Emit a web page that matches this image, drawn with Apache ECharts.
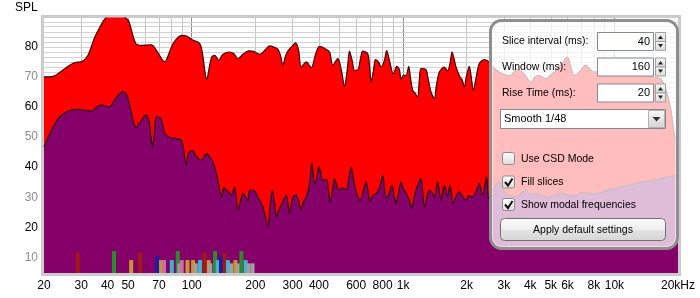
<!DOCTYPE html>
<html><head><meta charset="utf-8">
<style>html,body{margin:0;padding:0;background:#fff}#c{width:700px;height:298px}</style>
<script src="https://cdn.jsdelivr.net/npm/echarts@6/dist/echarts.min.js"></script>
</head><body><div id="c"></div>
<script>
// ---- data (frequency in Hz, level in dB SPL) ----
const redFreq = [20,22.1,25.7,28.0,30.2,32.3,34.8,36.8,38.8,41.9,45.7,48.8,50.4,54.4,57.9,60.6,64.5,68.1,74.6,78.7,82.3,89.7,94.4,101.5,107.1,110.3,113.1,115.9,117.8,120.3,124.3,128.5,134.2,140.1,150.4,158.0,165.5,174.2,186.0,196.3,209.7,221.4,233.7,246.8,255.8,263.5,270.0,278.0,285.1,296.8,310.0,320.2,329.8,348.4,367.9,385.5,402.6,425.0,448.8,465.2,491.2,511.4,528.2,545.8,557.8,576.2,589.0,610.5,628.6,644.6,680.6,693.4,706.3,724.2,740.2,764.6,787.6,816.4,836.9,861.9,900.2,933.2,960.8,978.8,1003.6,1033.6,1063.2,1083,1110.4,1143.4,1172.2,1194.2,1216.6,1284.4,1317,1356.4,1406.2,1437,1484.8,1567.8,1625,1673.2,1704.8,1780.6,1859.4,1906.6,1948.6,1991.2,2058,2102,2150,2220,2294,2422,2558,2700,2852,3010,3240,3430,3674,3824,4026,4218,4406,4738,4966,5186,5578,5994,6240,6448,6808,7320,7670,8010,8836,9778,10750,11726,12790,14062,15218,16552,17476,18452,19126,20000];
const redDb = [70.0,70.2,73.3,74.8,75.1,77.2,83.3,86.6,89.3,90.8,90.8,89.6,88.5,81.1,80.5,80.6,80.7,78.8,75.0,78.5,81.5,83.8,83.6,82.2,81.6,80.5,76.6,71.0,69.1,72.0,76.6,77.2,75.5,77.5,78.3,77.8,76.1,77.5,78.7,78.5,77.5,78.8,80.3,79.8,79.2,77.0,73.9,77.0,78.6,80.0,81.3,79.0,73.3,75.0,73.1,77.5,80.2,79.5,78.3,73.9,76.1,72.0,66.9,73.0,78.6,75.0,72.2,72.3,76.0,78.6,77.7,74.0,68.3,72.0,75.8,75.0,73.3,75.5,78.8,75.5,70.9,73.5,72.5,69.1,70.5,70.5,73.5,70.0,65.6,64.5,63.3,69.0,72.8,72.4,69.0,65.0,62.8,67.0,71.6,73.3,72.0,75.0,78.3,73.3,70.0,69.0,66.5,70.0,73.5,70.0,65.6,70.0,74.4,75.8,75.0,72.8,71.6,70.8,70.5,72.5,71.6,70.0,68.3,70.0,70.5,69.4,70.5,71.6,73.9,76.6,73.0,70.5,71.6,73.9,72.5,71.6,72.2,72.8,71.8,71.6,71.0,70.5,70.0,69.4,66.1,59.6,52.0,46.0];
const purpleFreq = [20,21.3,23.4,25.6,28.5,31.2,33.6,35.2,37.5,39.3,41.0,42.4,44.1,47.1,48.8,50.0,51.9,53.2,54.8,56.2,57.9,60.6,62.9,64.1,65.3,66.5,68.1,71.2,73.0,74.6,78.7,84.7,89.4,91.2,94.4,96.8,101.1,105.3,111.1,117.4,121.7,126.1,130.9,134.2,138.2,141.7,145.9,149.6,154.0,159.7,165.5,170.5,174.8,180.0,184.5,188.0,198.5,209.7,216.6,221.4,229.4,235.0,240.6,246.8,251.4,257.8,265.4,280.2,290.4,301.0,312.4,320.2,329.8,338.2,348.4,361.0,370.2,381.2,389.6,399.4,407.0,417.2,435.8,443.8,452.2,463.6,473.8,496.6,517.0,538.2,551.8,568.2,582.6,600.0,626.6,642.6,668.8,682.0,698.6,716.4,745.8,773.2,801.2,816.4,836.9,861.9,887.4,905.2,927.0,950.6,978.8,1003.6,1033.6,1071.4,1103.2,1125,1152.4,1181.6,1216.6,1240.6,1261,1295.8,1331.6,1368.4,1406.2,1457.4,1512.2,1567.8,1625,1667.8,1729.4,1786.4,1845,1906.6,1969.8,2058,2132,2220,2294,2378,2484,2538,2642,2750,2852,2946,3068,3214,3420,3584,3812,3994,4250,4552,4912,5242,5676,6104,6568,7034,7590,8188,8770,9432,10146,10866,11726,12650,13550,14576,15682,16788,18114,20000];
const purpleDb = [46.7,51.2,56.2,58.4,59.2,59.0,58.6,59.8,60.6,60.3,60.0,61.5,63.3,65.0,64.5,62.8,57.8,54.5,53.2,54.5,55.6,57.3,55.0,50.0,46.7,51.0,56.7,56.2,54.0,51.2,49.9,49.5,49.0,46.5,40.7,44.8,45.5,43.4,42.3,44.5,43.5,41.7,37.9,34.0,30.1,33.0,32.4,31.8,30.7,33.4,25.7,29.0,31.3,30.0,29.0,32.4,32.0,29.0,27.0,24.6,20.2,27.0,32.4,28.0,23.5,25.5,27.4,30.7,24.6,30.1,30.7,29.0,25.9,28.5,30.1,34.6,41.4,34.6,36.0,40.1,38.5,35.7,35.7,32.0,28.5,32.0,36.2,32.4,33.0,32.4,35.5,39.9,36.0,31.8,29.0,31.0,35.1,32.0,28.5,30.5,31.3,33.0,37.3,33.0,29.6,31.5,34.0,31.0,27.9,31.0,35.1,33.0,31.3,29.0,26.3,29.5,32.4,34.5,36.2,31.0,26.8,30.0,32.4,31.5,30.1,35.1,29.0,34.0,30.4,34.0,27.9,30.5,31.8,30.5,29.0,30.5,30.1,32.0,34.6,30.7,36.8,29.6,32.5,34.0,35.1,33.0,31.3,30.5,30.1,31.0,32.4,31.0,31.3,30.5,30.1,31.0,31.3,30.5,30.7,31.5,31.3,31.0,31.8,32.5,32.9,33.5,34.0,34.5,35.1,35.3,35.7,36.3,36.8,37.3];
// modal frequencies: frequency, level, mode kind
const modalFreq = [28.9,42.9,51.7,57.0,68.6,71.6,74.0,80.5,85.9,87.5,89.7,95.5,101.5,104.5,109.5,114.9,120.4,122.5,128.9,132.7,137.6,142.8,148.4,154,161,166,171.8,180,186,194];
const modalDb = [11.7,12.1,9.1,11.7,10.4,9.1,9.1,9.1,12.1,8.0,9.1,9.1,9.1,8.0,9.1,11.7,9.1,8.0,12.1,9.1,10.4,11.4,9.1,8.0,9.1,8.0,12.1,9.1,8.0,8.0];
const modalKind = [0,1,2,0,3,2,5,4,1,6,5,2,2,6,4,0,2,6,1,4,3,0,4,6,2,6,1,4,6,6];
// axes
const xTickFreq = [20,30,40,50,70,100,200,300,400,600,800,1000,2000,3000,4000,5000,6000,8000,10000,20000];
const xTickLabel = ['20','30','40','50','70','100','200','300','400','600','800','1k','2k','3k','4k','5k','6k','8k','10k','20kHz'];
const yTickDb = [10,20,30,40,50,60,70,80];
const gridFreq = [30,40,50,60,70,80,90,100,200,300,400,500,600,700,800,900,1000,2000,3000,4000,5000,6000,7000,8000,9000,10000];
const decadeFreq = [100,1000,10000];
const gridDb = [45,46.7,48.3,50,51.7,53.3,55,56.7,58.3,60,61.7,63.3,65,66.7,68.3,70,71.7,73.3,75,76.7,78.3,80,81.7,83.3,85,86.7,88.3];
// settings panel text
const panelFields = ['Slice interval (ms):','Window (ms):','Rise Time (ms):'];
const panelValues = ['40','160','20'];
const smoothLabel = 'Smooth 1/48';
const checkLabels = ['Use CSD Mode','Fill slices','Show modal frequencies'];
const checkStates = [false,true,true];
const buttonLabel = 'Apply default settings';
const axisTitle = 'SPL';

// ---- chart ----
const FONT = '"Liberation Sans", Arial, sans-serif';
const modalPalette = ['#a01818','#2e8a2e','#c8962e','#1c1ca8','#3fb4cc','#c86fa8','#a0a0a0'];
const chart = echarts.init(document.getElementById('c'), null, {renderer:'canvas'});

function fmtX(v){
  for (let i=0;i<xTickFreq.length;i++){
    if (Math.abs(Math.log10(v)-Math.log10(xTickFreq[i]))<1e-4) return xTickLabel[i];
  }
  return '';
}
const grad = (a,b) => ({type:'linear',x:0,y:0,x2:0,y2:1,colorStops:[{offset:0,color:a},{offset:1,color:b}]});

const G = [];
// plot frame
G.push({type:'rect', z:0, shape:{x:42.5,y:16.5,width:637,height:258}, style:{fill:'none',stroke:'#cbcbcb',lineWidth:3}});
// panel
G.push({type:'rect', z:100, shape:{x:490.5,y:20.5,width:187,height:228,r:11}, style:{fill:'rgba(255,255,255,0.74)',stroke:'#8e8e8e',lineWidth:3}});
G.push({type:'rect', z:100, shape:{x:492.5,y:22.5,width:183,height:224,r:9}, style:{fill:'none',stroke:'rgba(255,255,255,0.5)',lineWidth:1}});
const rowTop = [32,57.5,83.5];
panelFields.forEach((t,i)=>{
  const top = rowTop[i];
  G.push({type:'text', z:101, x:502, y:top+9.5, style:{text:t, fontSize:10.5, fontFamily:FONT, fill:'#000', verticalAlign:'middle'}});
  G.push({type:'rect', z:101, shape:{x:597.5,y:top+0.5,width:56,height:18}, style:{fill:'#fff',stroke:'#828790',lineWidth:1}});
  G.push({type:'text', z:102, x:650, y:top+9.5, style:{text:panelValues[i], fontSize:11, fontFamily:FONT, fill:'#000', align:'right', verticalAlign:'middle'}});
  G.push({type:'rect', z:101, shape:{x:655.5,y:top+0.5,width:10,height:9}, style:{fill:grad('#fafafa','#d6d6d6'),stroke:'#a0a0a0',lineWidth:1}});
  G.push({type:'rect', z:101, shape:{x:655.5,y:top+9.5,width:10,height:9}, style:{fill:grad('#fafafa','#d6d6d6'),stroke:'#a0a0a0',lineWidth:1}});
  G.push({type:'polygon', z:102, shape:{points:[[658,top+7],[663,top+7],[660.5,top+3.5]]}, style:{fill:'#222'}});
  G.push({type:'polygon', z:102, shape:{points:[[658,top+12],[663,top+12],[660.5,top+15.5]]}, style:{fill:'#222'}});
});
// dropdown
G.push({type:'rect', z:101, shape:{x:500.5,y:109.5,width:165,height:19}, style:{fill:'#fff',stroke:'#828790',lineWidth:1}});
G.push({type:'rect', z:101, shape:{x:648.5,y:110.5,width:16,height:17}, style:{fill:grad('#f8f8f8','#d4d4d4'),stroke:'#b4b4b4',lineWidth:1}});
G.push({type:'polygon', z:102, shape:{points:[[652.5,117],[660.5,117],[656.5,121.5]]}, style:{fill:'#333'}});
G.push({type:'text', z:102, x:504, y:119, style:{text:smoothLabel, fontSize:11, fontFamily:FONT, fill:'#000', verticalAlign:'middle'}});
// checkboxes
const chkTop = [152.5,176,198.5];
checkLabels.forEach((t,i)=>{
  const top = chkTop[i];
  G.push({type:'rect', z:101, shape:{x:502.5,y:top,width:12,height:12,r:2}, style:{fill:grad('#ffffff','#dcdcdc'),stroke:'#8a8a8a',lineWidth:1}});
  if (checkStates[i]) G.push({type:'polyline', z:102, shape:{points:[[505,top+6],[508,top+9.5],[512.5,top+2.5]]}, style:{stroke:'#111',lineWidth:2,fill:'none'}});
  G.push({type:'text', z:102, x:521, y:top+6.5, style:{text:t, fontSize:10.5, fontFamily:FONT, fill:'#000', verticalAlign:'middle'}});
});
// button
G.push({type:'rect', z:101, shape:{x:500.5,y:218.5,width:165,height:22,r:4}, style:{fill:{type:'linear',x:0,y:0,x2:0,y2:1,colorStops:[{offset:0,color:'#fcfcfc'},{offset:0.5,color:'#eeeeee'},{offset:0.55,color:'#e2e2e2'},{offset:1,color:'#d6d6d6'}]},stroke:'#707070',lineWidth:1}});
G.push({type:'text', z:102, x:583, y:230, style:{text:buttonLabel, fontSize:10.5, fontFamily:FONT, fill:'#000', align:'center', verticalAlign:'middle'}});

const gridLines = [];
gridFreq.forEach(f=>gridLines.push({xAxis:f, lineStyle:{color: decadeFreq.includes(f)?'#8c8c8c':'#c4c4c4', width:1, type:'solid'}}));
gridDb.forEach(v=>gridLines.push({yAxis:v, lineStyle:{color:'#d2d2d2', width:1, type:'solid'}}));

const option = {
  animation:false,
  backgroundColor:'#fff',
  title:{text:axisTitle, left:15, top:2, padding:0, textStyle:{fontSize:12, fontWeight:'normal', fontFamily:FONT, color:'#000'}},
  grid:{left:44, right:22, top:18, bottom:25, show:true, backgroundColor:'#fff', borderWidth:0, outerBoundsMode:'none'},
  xAxis:{type:'log', logBase:10, min:20, max:20000,
    axisLine:{show:false}, axisTick:{show:false}, splitLine:{show:false},
    axisLabel:{customValues:xTickFreq, formatter:fmtX, fontSize:12, fontFamily:FONT, color:'#000', margin:7}},
  yAxis:{type:'value', min:4.8, max:89.6,
    axisLine:{show:false}, axisTick:{show:false}, splitLine:{show:false},
    axisLabel:{customValues:yTickDb, margin:6,
      formatter:v=> (Math.round(v/10)%2===0 ? '{b|'+v+'}' : '{g|'+v+'}'),
      rich:{b:{color:'#000',fontSize:12,fontFamily:FONT}, g:{color:'#8c8c8c',fontSize:12,fontFamily:FONT}}}},
  graphic: G,
  series:[
    {type:'line', name:'grid', data:[], z:1, silent:true,
      markLine:{silent:true, z:1, symbol:['none','none'], label:{show:false}, emphasis:{disabled:true}, animation:false, data:gridLines}},
    {type:'line', name:'0 ms', z:2, data:redFreq.map((f,i)=>[f,redDb[i]]), smooth:0.3, symbol:'none',
      lineStyle:{color:'#3a0000', width:1.2}, areaStyle:{color:'#ff0000', opacity:1, origin:'start'}},
    {type:'line', name:'later slice', z:3, data:purpleFreq.map((f,i)=>[f,purpleDb[i]]), smooth:0.3, symbol:'none',
      lineStyle:{color:'#2a0018', width:1.2}, areaStyle:{color:'#850068', opacity:1, origin:'start'}},
    {type:'bar', name:'modes', z:4, barWidth:4, barGap:'-100%',
      data:modalFreq.map((f,i)=>({value:[f,modalDb[i]], itemStyle:{color:modalPalette[modalKind[i]]}}))}
  ]
};
chart.setOption(option);
</script></body></html>
